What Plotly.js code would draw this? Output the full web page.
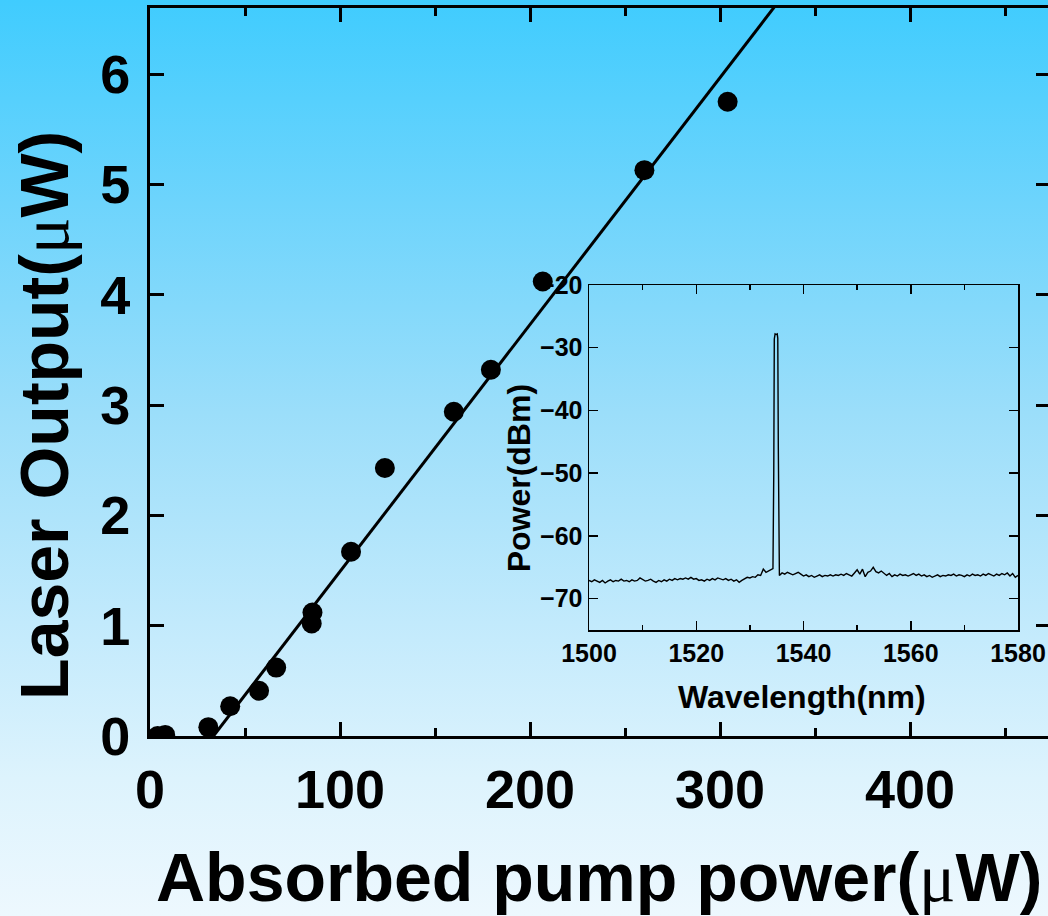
<!DOCTYPE html>
<html>
<head>
<meta charset="utf-8">
<script src="https://cdn.plot.ly/plotly-3.0.1.min.js"></script>
<style>
  html, body { margin:0; padding:0; overflow:hidden; width:1048px; height:916px; }
  body { background: linear-gradient(to bottom, #40CCFE 0%, #6DD4FC 22%, #9BDEFA 45%, #C2EAFC 68%, #DDF3FD 85%, #EDF8FE 100%); }
  #chart { width:1048px; height:916px; }
</style>
</head>
<body>
<div id="chart"></div>
<script>
// Main plot: absorbed pump power (µW) vs laser output (µW)
const pumpPower   = [4, 8, 30.7, 42.2, 57.4, 66.4, 85.1, 85.5, 105.8, 123.6, 159.9, 179.4, 206.7, 260.2, 304.0];
const laserOutput = [0, 0.01, 0.08, 0.27, 0.41, 0.62, 1.02, 1.12, 1.67, 2.43, 2.94, 3.32, 4.12, 5.13, 5.75];

// Linear fit line (threshold ~33.4 µW)
const fitX = [33.4, 340];
const fitY = [0, 6.865];

// Axis ticks
const mainXTicks = [0, 100, 200, 300, 400];
const mainYTicks = [0, 1, 2, 3, 4, 5, 6];
const insetXTicks = [1500, 1520, 1540, 1560, 1580];
const insetYTicks = [-70, -60, -50, -40, -30, -20];

// Inset: optical spectrum
const specX = [1500.0,1500.5,1501.0,1501.5,1502.0,1502.5,1503.0,1503.5,1504.0,1504.5,1505.0,1505.5,1506.0,1506.5,1507.0,1507.5,1508.0,1508.5,1509.0,1509.5,
1510.0,1510.5,1511.0,1511.5,1512.0,1512.5,1513.0,1513.5,1514.0,1514.5,1515.0,1515.5,1516.0,1516.5,1517.0,1517.5,1518.0,1518.5,1519.0,1519.5,
1520.0,1520.5,1521.0,1521.5,1522.0,1522.5,1523.0,1523.5,1524.0,1524.5,1525.0,1525.5,1526.0,1526.5,1527.0,1527.5,1528.0,1528.5,1529.0,1529.5,
1530.0,1530.5,1531.0,1531.5,1532.0,1532.5,1533.0,1533.5,1534.0,1534.3,1534.45,1534.55,1534.7,1534.9,1535.1,1535.2,1535.3,1535.4,1535.5,
1536.0,1536.5,1537.0,1537.5,1538.0,1538.5,1539.0,1539.5,1540.0,1540.5,1541.0,1541.5,1542.0,1542.5,1543.0,1543.5,1544.0,1544.5,1545.0,1545.5,
1546.0,1546.5,1547.0,1547.5,1548.0,1548.5,1549.0,1549.5,1550.0,1550.5,1551.0,1551.5,1552.0,1552.5,1553.0,1553.5,1554.0,1554.5,1555.0,1555.5,
1556.0,1556.5,1557.0,1557.5,1558.0,1558.5,1559.0,1559.5,1560.0,1560.5,1561.0,1561.5,1562.0,1562.5,1563.0,1563.5,1564.0,1564.5,1565.0,1565.5,
1566.0,1566.5,1567.0,1567.5,1568.0,1568.5,1569.0,1569.5,1570.0,1570.5,1571.0,1571.5,1572.0,1572.5,1573.0,1573.5,1574.0,1574.5,1575.0,1575.5,
1576.0,1576.5,1577.0,1577.5,1578.0,1578.5,1579.0,1579.5,1580.0];
const specY = [-67.1,-67.3,-67.0,-67.2,-67.4,-67.1,-67.5,-67.2,-67.0,-67.3,-67.1,-67.2,-66.9,-67.2,-67.1,-67.3,-67.0,-67.2,-67.1,-66.7,
-67.0,-67.2,-67.1,-66.9,-67.2,-67.4,-67.1,-67.3,-67.0,-67.2,-66.9,-67.1,-66.8,-67.0,-66.8,-66.9,-66.7,-66.9,-66.6,-66.9,
-66.8,-67.1,-67.0,-67.2,-66.9,-67.1,-66.8,-67.0,-66.7,-66.9,-67.0,-66.8,-67.1,-66.9,-67.2,-67.0,-67.4,-67.1,-66.9,-66.6,
-66.7,-66.5,-66.6,-66.2,-66.3,-65.3,-65.8,-65.6,-65.4,-65.2,-50.0,-28.6,-27.8,-27.9,-27.8,-28.5,-46.0,-63.5,-66.3,
-65.9,-66.1,-65.8,-66.0,-66.2,-66.0,-65.8,-66.1,-66.4,-66.2,-66.5,-66.3,-66.6,-66.4,-66.2,-66.5,-66.3,-66.4,-66.2,-66.4,
-66.2,-66.3,-66.1,-66.3,-66.0,-66.2,-66.4,-65.9,-65.4,-66.1,-65.3,-66.5,-65.8,-65.6,-65.0,-65.7,-65.9,-65.6,-65.9,-66.3,
-66.0,-66.5,-66.2,-66.4,-66.1,-66.3,-66.2,-66.4,-66.2,-66.0,-66.3,-66.1,-66.4,-66.2,-66.5,-66.3,-66.6,-66.4,-66.2,-66.5,
-66.3,-66.4,-66.2,-66.3,-66.1,-66.4,-66.2,-66.3,-66.5,-66.2,-66.4,-66.1,-66.3,-66.2,-66.4,-66.1,-66.3,-66.0,-66.2,-66.4,
-66.1,-66.3,-66.0,-66.2,-65.9,-66.4,-66.0,-66.6,-66.3];

const FONT = 'Liberation Sans, Arial, Helvetica, sans-serif';
const MU = '<span style="font-family:Liberation Serif, Times New Roman, serif;font-weight:normal">μ</span>';

const traces = [
  { x: fitX, y: fitY, mode: 'lines', type: 'scatter', xaxis: 'x', yaxis: 'y',
    line: { color: '#000', width: 3 }, hoverinfo: 'skip' },
  { x: pumpPower, y: laserOutput, mode: 'markers', type: 'scatter', xaxis: 'x', yaxis: 'y',
    marker: { color: '#000', size: 20 } },
  { x: specX, y: specY, mode: 'lines', type: 'scatter', xaxis: 'x2', yaxis: 'y2',
    line: { color: '#000', width: 1.4 } },
  // invisible helper trace so the right-hand tick axis is drawn
  { x: [null], y: [null], mode: 'markers', type: 'scatter', xaxis: 'x', yaxis: 'y3',
    hoverinfo: 'skip', showlegend: false }
];

const layout = {
  width: 1048, height: 916,
  margin: { l: 150, r: 0, t: 8, b: 180, pad: 0 },
  paper_bgcolor: 'rgba(0,0,0,0)', plot_bgcolor: 'rgba(0,0,0,0)',
  showlegend: false,
  font: { family: FONT, color: '#000' },
  xaxis: {
    domain: [0, 1], range: [0, 472.6], tickvals: mainXTicks,
    ticks: 'inside', ticklen: 14, tickwidth: 3, tickcolor: '#000',
    minor: { dtick: 50, tick0: 0, ticks: 'inside', ticklen: 8, tickwidth: 3, tickcolor: '#000' },
    showline: true, linewidth: 3, linecolor: '#000', mirror: 'ticks',
    showgrid: false, zeroline: false,
    tickfont: { family: FONT, size: 54, weight: 'bold', color: '#000' },
    ticklabelstandoff: 4
  },
  yaxis: {
    domain: [0, 1], range: [0, 6.6], tickvals: mainYTicks,
    ticks: 'inside', ticklen: 14, tickwidth: 3, tickcolor: '#000',
    showline: true, linewidth: 3, linecolor: '#000', mirror: false,
    showgrid: false, zeroline: false,
    tickfont: { family: FONT, size: 54, weight: 'bold', color: '#000' },
    ticklabelstandoff: 6
  },
  yaxis3: {
    overlaying: 'y', side: 'right', anchor: 'free', position: 1,
    range: [0, 6.6], tickvals: mainYTicks,
    ticks: 'inside', ticklen: 12, tickwidth: 3, tickcolor: '#000',
    showline: false, showgrid: false, zeroline: false, showticklabels: false
  },
  xaxis2: {
    anchor: 'y2', domain: [0.4889, 0.9666], range: [1500, 1580], tickvals: insetXTicks,
    ticks: 'inside', ticklen: 9, tickwidth: 1.5, tickcolor: '#000',
    minor: { dtick: 10, tick0: 1500, ticks: 'inside', ticklen: 5, tickwidth: 1.5, tickcolor: '#000' },
    showline: true, linewidth: 1.5, linecolor: '#000', mirror: 'ticks',
    showgrid: false, zeroline: false,
    tickfont: { family: FONT, size: 25, weight: 'bold', color: '#000' }
  },
  yaxis2: {
    anchor: 'x2', domain: [0.1456, 0.6195], range: [-75, -20], tickvals: insetYTicks,
    ticks: 'inside', ticklen: 9, tickwidth: 1.5, tickcolor: '#000',
    showline: true, linewidth: 1.5, linecolor: '#000', mirror: 'ticks',
    showgrid: false, zeroline: false,
    tickfont: { family: FONT, size: 25, weight: 'bold', color: '#000' }
  },
  annotations: [
    { text: 'Laser Output(' + MU + 'W)', xref: 'paper', yref: 'paper', x: -0.117, y: 0.441,
      xanchor: 'center', yanchor: 'middle', textangle: -90, showarrow: false,
      font: { family: FONT, size: 68, weight: 'bold', color: '#000' } },
    { text: 'Absorbed pump power(' + MU + 'W)', xref: 'paper', yref: 'paper', x: 0.5, y: -0.195,
      xanchor: 'center', yanchor: 'middle', showarrow: false,
      font: { family: FONT, size: 68, weight: 'bold', color: '#000' } },
    { text: 'Power(dBm)', xref: 'paper', yref: 'paper', x: 0.411, y: 0.354,
      xanchor: 'center', yanchor: 'middle', textangle: -90, showarrow: false,
      font: { family: FONT, size: 32, weight: 'bold', color: '#000' } },
    { text: 'Wavelength(nm)', xref: 'paper', yref: 'paper', x: 0.7266, y: 0.0536,
      xanchor: 'center', yanchor: 'middle', showarrow: false,
      font: { family: FONT, size: 32, weight: 'bold', color: '#000' } }
  ]
};

Plotly.newPlot('chart', traces, layout, { displayModeBar: false, staticPlot: true });
</script>
</body>
</html>
